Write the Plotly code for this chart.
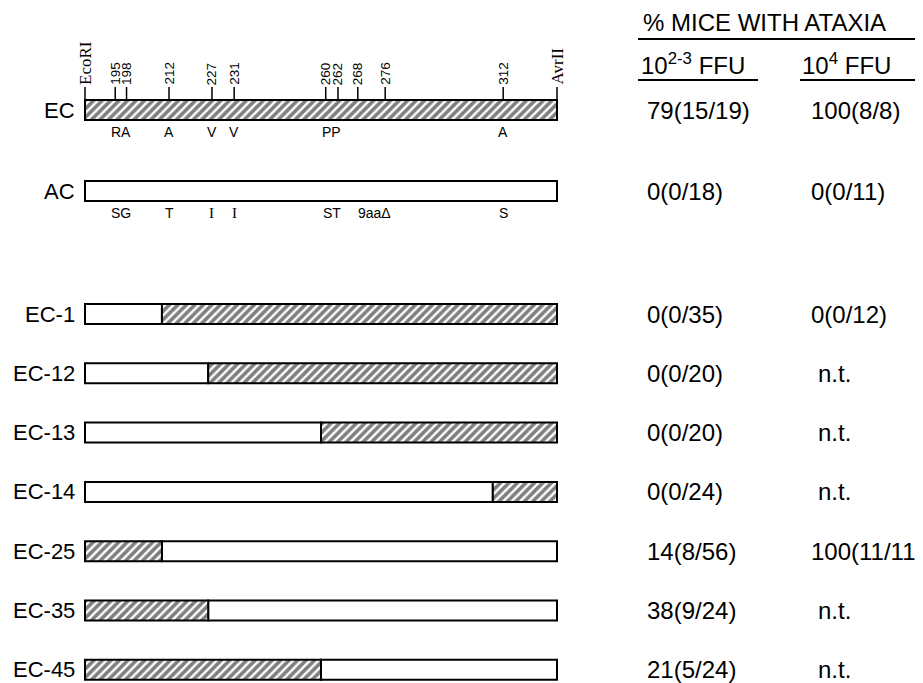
import plotly.graph_objects as go

# ---------------- data ----------------
# map positions (percent of the EcoRI..AvrII fragment as drawn)
site_labels = ["EcoRI", "195", "198", "212", "227", "231", "260", "262", "268", "276", "312", "AvrII"]
site_pos = [0.0, 6.4, 8.8, 17.8, 26.9, 31.6, 51.0, 53.6, 57.8, 63.6, 88.6, 100.0]

ec_res_labels = ["RA", "A", "V", "V", "PP", "A"]
ec_res_pos = [7.6, 17.8, 26.9, 31.6, 52.3, 88.6]
ac_res_labels = ["SG", "T", "I", "I", "ST", "9aaΔ", "S"]
ac_res_pos = [7.6, 17.8, 26.9, 31.6, 52.3, 61.4, 88.6]

constructs = ["EC", "AC", "EC-1", "EC-12", "EC-13", "EC-14", "EC-25", "EC-35", "EC-45"]
# junction position of each construct (None = no junction)
junction = [None, None, 16.3, 26.1, 50.0, 86.4, 16.3, 26.1, 50.0]
# which parent forms the 5' (left) part: "EC" hatched, "AC" open
left_parent = ["EC", "AC", "AC", "AC", "AC", "AC", "EC", "EC", "EC"]

ataxia_low = ["79(15/19)", "0(0/18)", "0(0/35)", "0(0/20)", "0(0/20)", "0(0/24)", "14(8/56)", "38(9/24)", "21(5/24)"]
ataxia_high = ["100(8/8)", "0(0/11)", "0(0/12)", "n.t.", "n.t.", "n.t.", "100(11/11)", "n.t.", "n.t."]

header = "% MICE WITH ATAXIA"
col_low = "10<sup>2-3</sup> FFU"
col_high = "10<sup>4</sup> FFU"

# ---------------- layout constants ----------------
PAGE_W, PAGE_H = 923, 683
BODY = 8                      # browser body margin around the plot div
W, H = PAGE_W - BODY, PAGE_H - BODY
PX_PER_UNIT = 4.72
ORIGIN_PX = 85
X_LEFT = (BODY - ORIGIN_PX) / PX_PER_UNIT
X_RIGHT = (PAGE_W - ORIGIN_PX) / PX_PER_UNIT

TOP_Y = 110
AC_Y = 191
CHIM_Y0 = 314
STEP = 59.3
BAR_H = 20

row_y = [TOP_Y, AC_Y] + [CHIM_Y0 + STEP * k for k in range(len(constructs) - 2)]

FONT = "Liberation Sans, Arial, Helvetica, sans-serif"
SERIF = "Liberation Serif, Times New Roman, serif"
FS_LAB = 22
FS = 24


def ux(px):
    """page pixel -> diagram unit"""
    return (px - ORIGIN_PX) / PX_PER_UNIT


hx, hw, hy = [], [], []   # hatched segments (EC-derived)
ox, ow, oy = [], [], []   # open segments (AC-derived)
for name, j, lp, y in zip(constructs, junction, left_parent, row_y):
    if j is None:
        segs = [(0.0, 100.0, lp)]
    else:
        other = "AC" if lp == "EC" else "EC"
        segs = [(0.0, j, lp), (j, 100.0, other)]
    for a, b, p in segs:
        if p == "EC":
            hx.append(a); hw.append(b - a); hy.append(y)
        else:
            ox.append(a); ow.append(b - a); oy.append(y)

fig = go.Figure()
fig.add_trace(go.Bar(
    orientation="h", base=ox, x=ow, y=oy, width=BAR_H,
    marker=dict(color="white", line=dict(color="black", width=2)),
    hoverinfo="skip", showlegend=False))
fig.add_trace(go.Bar(
    orientation="h", base=hx, x=hw, y=hy, width=BAR_H,
    marker=dict(color="white",
                pattern=dict(shape="/", fgcolor="black", bgcolor="white", size=6, solidity=0.6),
                line=dict(color="black", width=2)),
    hoverinfo="skip", showlegend=False))

# site ticks on top of EC
tx, ty = [], []
for p in site_pos:
    tx += [p, p, None]
    ty += [TOP_Y - BAR_H / 2 - 13, TOP_Y - BAR_H / 2, None]
fig.add_trace(go.Scatter(x=tx, y=ty, mode="lines", line=dict(color="black", width=1.5),
                         hoverinfo="skip", showlegend=False))

ann = []
for lab, p in zip(site_labels, site_pos):
    serif = not lab.isdigit()
    ann.append(dict(x=p, y=TOP_Y - BAR_H / 2 - 13, text=lab, textangle=-90,
                    xanchor="center", yanchor="bottom", showarrow=False,
                    font=dict(family=SERIF if serif else FONT, size=17 if serif else 13.5, color="black")))

for lab, p in zip(ec_res_labels, ec_res_pos):
    ann.append(dict(x=p, y=TOP_Y + 22, text=lab, xanchor="center", yanchor="middle",
                    showarrow=False, font=dict(family=FONT, size=14, color="black")))
for lab, p in zip(ac_res_labels, ac_res_pos):
    ann.append(dict(x=p, y=AC_Y + 22, text=lab, xanchor="center", yanchor="middle",
                    showarrow=False, font=dict(family=SERIF if lab == "I" else FONT,
                                               size=15 if lab == "I" else 14, color="black")))

for name, y, lo, hi in zip(constructs, row_y, ataxia_low, ataxia_high):
    ann.append(dict(x=ux(77), y=y, text=name, xanchor="right", yanchor="middle",
                    showarrow=False, font=dict(family=FONT, size=FS_LAB, color="black")))
    ann.append(dict(x=ux(645), y=y, text=lo, xanchor="left", yanchor="middle",
                    showarrow=False, font=dict(family=FONT, size=FS, color="black")))
    ann.append(dict(x=ux(816 if hi == "n.t." else 809), y=y, text=hi, xanchor="left", yanchor="middle",
                    showarrow=False, font=dict(family=FONT, size=FS, color="black")))

ann.append(dict(x=ux(641), y=22, text=header, xanchor="left", yanchor="middle", showarrow=False,
                font=dict(family=FONT, size=FS, color="black")))
ann.append(dict(x=ux(639), y=64, text=col_low, xanchor="left", yanchor="middle", showarrow=False,
                font=dict(family=FONT, size=FS, color="black")))
ann.append(dict(x=ux(800), y=64, text=col_high, xanchor="left", yanchor="middle", showarrow=False,
                font=dict(family=FONT, size=FS, color="black")))

shapes = [
    dict(type="line", xref="x", yref="y", x0=ux(638), x1=ux(918), y0=39, y1=39, line=dict(color="black", width=2)),
    dict(type="line", xref="x", yref="y", x0=ux(638), x1=ux(758), y0=80, y1=80, line=dict(color="black", width=2)),
    dict(type="line", xref="x", yref="y", x0=ux(800), x1=ux(918), y0=80, y1=80, line=dict(color="black", width=2)),
]

fig.update_layout(
    width=W, height=H, margin=dict(l=0, r=0, t=0, b=0),
    paper_bgcolor="white", plot_bgcolor="white",
    barmode="overlay", annotations=ann, shapes=shapes,
    xaxis=dict(range=[X_LEFT, X_RIGHT], visible=False, fixedrange=True),
    yaxis=dict(range=[PAGE_H, BODY], visible=False, fixedrange=True),
)
fig.write_html("out.html")
